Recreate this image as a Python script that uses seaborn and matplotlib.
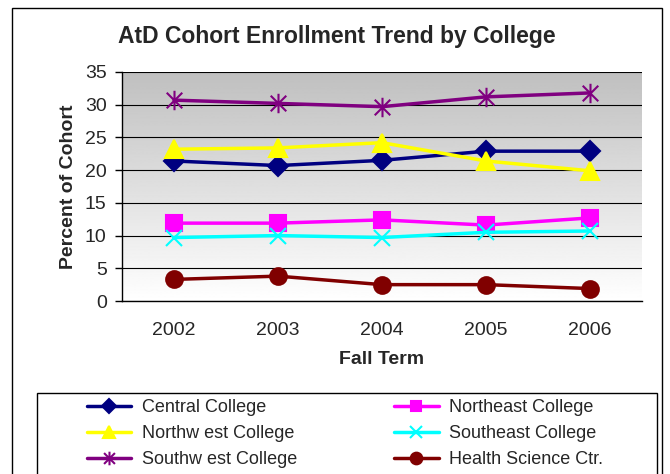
import numpy as np
import pandas as pd
import seaborn as sns
from matplotlib import pyplot as plt
from matplotlib.patches import Rectangle
from matplotlib.path import Path

years = ['2002', '2003', '2004', '2005', '2006']
central = [21.4, 20.7, 21.5, 22.9, 22.9]
northeast = [11.9, 11.9, 12.4, 11.6, 12.7]
northwest = [23.2, 23.4, 24.2, 21.4, 19.9]
southeast = [9.7, 10.0, 9.7, 10.5, 10.7]
southwest = [30.7, 30.2, 29.7, 31.2, 31.8]
health = [3.3, 3.8, 2.5, 2.5, 1.9]

names = ['Central College', 'Northeast College', 'Northw est College',
         'Southeast College', 'Southw est College', 'Health Science Ctr.']
colors = ['#000080', '#ff00ff', '#ffff00', '#00ffff', '#800080', '#800000']

# excel style star: an x with a vertical bar through it
star = Path([(0, -1), (0, 1), (-0.8, -0.8), (0.8, 0.8), (-0.8, 0.8), (0.8, -0.8)],
            [Path.MOVETO, Path.LINETO, Path.MOVETO, Path.LINETO, Path.MOVETO, Path.LINETO])
markers = ['D', 's', '^', 'x', star, 'o']
msizes = [10, 11, 13, 12, 14, 12]

sns.set_style('white')
plt.rcParams['font.family'] = ['Liberation Sans', 'DejaVu Sans']

df = pd.DataFrame({'Fall Term': years * 6,
                   'Percent': central + northeast + northwest + southeast + southwest + health,
                   'College': np.repeat(names, len(years))})
df['x'] = np.tile(np.arange(len(years)), 6)

fig = plt.figure(figsize=(6.7, 4.74), dpi=100)
# outer chart border and legend box
fig.patches.append(Rectangle((12 / 670, -0.1), 650 / 670, 1.1 - 8 / 474, transform=fig.transFigure,
                             fill=False, edgecolor='black', linewidth=1))
fig.patches.append(Rectangle((37 / 670, -0.1), 620 / 670, 0.1 + 1 - 393 / 474, transform=fig.transFigure,
                             fill=False, edgecolor='black', linewidth=1))
ax = fig.add_axes([122 / 670, 1 - 301 / 474, 520 / 670, 229 / 474])

# gradient background like the excel fill
grad = np.linspace(0.75, 1.0, 256).reshape(-1, 1)
ax.imshow(grad, cmap='gray', vmin=0, vmax=1, aspect='auto', extent=[-0.5, 4.5, 0, 35],
          origin='upper', zorder=0)

for i, name in enumerate(names):
    sub = df[df['College'] == name]
    sns.lineplot(data=sub, x='x', y='Percent', ax=ax, color=colors[i], marker=markers[i],
                 markersize=msizes[i], markeredgecolor=colors[i], markeredgewidth=1.5,
                 linewidth=2.5, label=name, legend=False, zorder=3)

ax.set_xlim(-0.5, 4.5)
ax.set_ylim(0, 35)
ax.set_yticks(range(0, 36, 5))
ax.yaxis.grid(True, color='black', linewidth=0.8)
ax.set_axisbelow(False)
for line in ax.get_ygridlines():
    line.set_zorder(1)
ax.set_xticks(np.arange(len(years)))
ax.set_xticklabels(years)
ax.set_xticks(np.arange(-0.5, 5, 1), minor=True)
ax.tick_params(axis='x', which='major', length=0, labelsize=14, pad=15)
ax.tick_params(axis='x', which='minor', length=5, color='black', width=1, direction='out')
ax.tick_params(axis='y', length=5, color='black', width=1, direction='out', labelsize=14,
               left=True, pad=6)
for s in ['top', 'right']:
    ax.spines[s].set_visible(False)
for s in ['left', 'bottom']:
    ax.spines[s].set_color('black')
    ax.spines[s].set_linewidth(1)
ax.set_xlabel('Fall Term', fontsize=14, fontweight='bold', labelpad=9)
ax.set_ylabel('Percent of Cohort', fontsize=14, fontweight='bold', labelpad=6)
fig.text(337 / 670, 1 - 37 / 474, 'AtD Cohort Enrollment Trend by College', fontsize=16.5,
         fontweight='bold', ha='center', va='center')

handles, labels = ax.get_legend_handles_labels()
order = [0, 2, 4, 1, 3, 5]
leg = fig.legend([handles[i] for i in order], [labels[i] for i in order], ncol=2,
                 loc='upper center', bbox_to_anchor=(345 / 670, 1 - 393 / 474),
                 fontsize=13, frameon=False, borderaxespad=0, borderpad=0.33,
                 handlelength=2.45, handletextpad=0.6, columnspacing=5.4, labelspacing=0.5,
                 markerscale=0.7)

fig.savefig('out.png', dpi=100)
